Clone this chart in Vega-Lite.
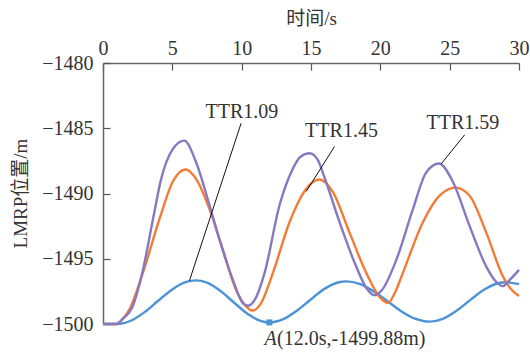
{
  "$schema": "https://vega.github.io/schema/vega-lite/v6.json",
  "autosize": {"type": "none"},
  "width": 416,
  "height": 261,
  "padding": {"left": 103, "top": 63, "right": 11, "bottom": 29},
  "background": "white",
  "config": {"view": {"stroke": null}},
  "datasets": {
    "curves": [
      {"t": 0, "v": -1500, "s": "TTR1.09"}, {"t": 0.5, "v": -1500, "s": "TTR1.09"}, {"t": 1.0, "v": -1500, "s": "TTR1.09"},
      {"t": 2.0, "v": -1499.75, "s": "TTR1.09"}, {"t": 3.0, "v": -1499.09, "s": "TTR1.09"}, {"t": 4.0, "v": -1498.2, "s": "TTR1.09"},
      {"t": 5.0, "v": -1497.35, "s": "TTR1.09"}, {"t": 6.0, "v": -1496.78, "s": "TTR1.09"}, {"t": 6.71, "v": -1496.66, "s": "TTR1.09"},
      {"t": 7.5, "v": -1496.83, "s": "TTR1.09"}, {"t": 8.5, "v": -1497.49, "s": "TTR1.09"}, {"t": 9.5, "v": -1498.41, "s": "TTR1.09"},
      {"t": 10.5, "v": -1499.28, "s": "TTR1.09"}, {"t": 11.3, "v": -1499.74, "s": "TTR1.09"}, {"t": 12.0, "v": -1499.88, "s": "TTR1.09"},
      {"t": 13.0, "v": -1499.63, "s": "TTR1.09"}, {"t": 14.0, "v": -1498.97, "s": "TTR1.09"}, {"t": 15.0, "v": -1498.1, "s": "TTR1.09"},
      {"t": 16.0, "v": -1497.29, "s": "TTR1.09"}, {"t": 17.0, "v": -1496.8, "s": "TTR1.09"}, {"t": 17.53, "v": -1496.73, "s": "TTR1.09"},
      {"t": 18.5, "v": -1496.92, "s": "TTR1.09"}, {"t": 19.5, "v": -1497.48, "s": "TTR1.09"}, {"t": 20.5, "v": -1498.24, "s": "TTR1.09"},
      {"t": 21.5, "v": -1499.02, "s": "TTR1.09"}, {"t": 22.5, "v": -1499.59, "s": "TTR1.09"}, {"t": 23.55, "v": -1499.82, "s": "TTR1.09"},
      {"t": 24.5, "v": -1499.6, "s": "TTR1.09"}, {"t": 25.5, "v": -1498.98, "s": "TTR1.09"}, {"t": 26.5, "v": -1498.15, "s": "TTR1.09"},
      {"t": 27.5, "v": -1497.36, "s": "TTR1.09"}, {"t": 28.5, "v": -1496.88, "s": "TTR1.09"}, {"t": 29.0, "v": -1496.8, "s": "TTR1.09"},
      {"t": 30, "v": -1496.95, "s": "TTR1.09"},

      {"t": 0, "v": -1500, "s": "TTR1.45"}, {"t": 0.5, "v": -1500, "s": "TTR1.45"}, {"t": 1.0, "v": -1500, "s": "TTR1.45"},
      {"t": 1.3, "v": -1499.75, "s": "TTR1.45"}, {"t": 1.9, "v": -1498.9, "s": "TTR1.45"}, {"t": 2.87, "v": -1496.1, "s": "TTR1.45"},
      {"t": 4.07, "v": -1491.97, "s": "TTR1.45"}, {"t": 5.03, "v": -1489.1, "s": "TTR1.45"}, {"t": 5.95, "v": -1488.16, "s": "TTR1.45"},
      {"t": 6.71, "v": -1488.88, "s": "TTR1.45"}, {"t": 7.68, "v": -1491.2, "s": "TTR1.45"}, {"t": 8.64, "v": -1494.3, "s": "TTR1.45"},
      {"t": 9.6, "v": -1497.4, "s": "TTR1.45"}, {"t": 10.2, "v": -1498.5, "s": "TTR1.45"}, {"t": 10.8, "v": -1498.97, "s": "TTR1.45"},
      {"t": 11.4, "v": -1498.4, "s": "TTR1.45"}, {"t": 12.25, "v": -1496.1, "s": "TTR1.45"}, {"t": 13.45, "v": -1492.2, "s": "TTR1.45"},
      {"t": 14.65, "v": -1489.65, "s": "TTR1.45"}, {"t": 15.61, "v": -1488.93, "s": "TTR1.45"}, {"t": 16.58, "v": -1489.9, "s": "TTR1.45"},
      {"t": 17.78, "v": -1493.0, "s": "TTR1.45"}, {"t": 18.99, "v": -1496.1, "s": "TTR1.45"}, {"t": 19.92, "v": -1497.9, "s": "TTR1.45"},
      {"t": 20.54, "v": -1498.4, "s": "TTR1.45"}, {"t": 21.05, "v": -1497.6, "s": "TTR1.45"}, {"t": 21.62, "v": -1496.1, "s": "TTR1.45"},
      {"t": 23.07, "v": -1492.2, "s": "TTR1.45"}, {"t": 24.27, "v": -1490.17, "s": "TTR1.45"}, {"t": 25.43, "v": -1489.55, "s": "TTR1.45"},
      {"t": 26.44, "v": -1490.17, "s": "TTR1.45"}, {"t": 27.64, "v": -1493.0, "s": "TTR1.45"}, {"t": 28.84, "v": -1496.35, "s": "TTR1.45"},
      {"t": 29.4, "v": -1497.3, "s": "TTR1.45"}, {"t": 30, "v": -1497.85, "s": "TTR1.45"},

      {"t": 0, "v": -1500, "s": "TTR1.59"}, {"t": 0.5, "v": -1500, "s": "TTR1.59"}, {"t": 0.94, "v": -1500, "s": "TTR1.59"},
      {"t": 1.43, "v": -1499.6, "s": "TTR1.59"}, {"t": 2.12, "v": -1498.7, "s": "TTR1.59"}, {"t": 2.87, "v": -1495.9, "s": "TTR1.59"},
      {"t": 3.6, "v": -1492.0, "s": "TTR1.59"}, {"t": 4.19, "v": -1488.9, "s": "TTR1.59"}, {"t": 5.03, "v": -1486.6, "s": "TTR1.59"},
      {"t": 5.86, "v": -1485.95, "s": "TTR1.59"}, {"t": 6.71, "v": -1487.6, "s": "TTR1.59"}, {"t": 7.68, "v": -1490.9, "s": "TTR1.59"},
      {"t": 8.39, "v": -1493.5, "s": "TTR1.59"}, {"t": 9.36, "v": -1496.6, "s": "TTR1.59"}, {"t": 10.08, "v": -1498.4, "s": "TTR1.59"},
      {"t": 10.46, "v": -1498.6, "s": "TTR1.59"}, {"t": 10.97, "v": -1498.1, "s": "TTR1.59"}, {"t": 11.65, "v": -1496.1, "s": "TTR1.59"},
      {"t": 12.73, "v": -1490.9, "s": "TTR1.59"}, {"t": 13.69, "v": -1488.1, "s": "TTR1.59"}, {"t": 14.22, "v": -1487.2, "s": "TTR1.59"},
      {"t": 14.9, "v": -1486.92, "s": "TTR1.59"}, {"t": 15.5, "v": -1487.45, "s": "TTR1.59"}, {"t": 15.85, "v": -1488.4, "s": "TTR1.59"},
      {"t": 17.06, "v": -1492.2, "s": "TTR1.59"}, {"t": 18.26, "v": -1495.6, "s": "TTR1.59"}, {"t": 19.03, "v": -1497.3, "s": "TTR1.59"},
      {"t": 19.59, "v": -1497.8, "s": "TTR1.59"}, {"t": 20.12, "v": -1497.4, "s": "TTR1.59"}, {"t": 21.15, "v": -1495.1, "s": "TTR1.59"},
      {"t": 22.35, "v": -1491.2, "s": "TTR1.59"}, {"t": 23.3, "v": -1488.4, "s": "TTR1.59"}, {"t": 24.23, "v": -1487.7, "s": "TTR1.59"},
      {"t": 25.23, "v": -1489.1, "s": "TTR1.59"}, {"t": 26.44, "v": -1492.5, "s": "TTR1.59"}, {"t": 27.64, "v": -1495.6, "s": "TTR1.59"},
      {"t": 28.38, "v": -1496.8, "s": "TTR1.59"}, {"t": 28.84, "v": -1497.1, "s": "TTR1.59"}, {"t": 29.26, "v": -1496.7, "s": "TTR1.59"},
      {"t": 30, "v": -1495.85, "s": "TTR1.59"}
    ],
    "leaders": [
      {"t": 9.96, "v": -1484.61, "g": "a"}, {"t": 6.23, "v": -1496.7, "g": "a"},
      {"t": 16.7, "v": -1486.4, "g": "b"}, {"t": 14.65, "v": -1489.85, "g": "b"},
      {"t": 26.08, "v": -1485.5, "g": "c"}, {"t": 24.39, "v": -1487.73, "g": "c"}
    ],
    "labels": [
      {"t": 10.02, "v": -1484.2, "label": "TTR1.09"},
      {"t": 17.2, "v": -1485.64, "label": "TTR1.45"},
      {"t": 25.95, "v": -1485.07, "label": "TTR1.59"}
    ],
    "pointA": [{"t": 12.0, "v": -1499.88}],
    "labelA": [
      {"t": 11.64, "v": -1501.6, "part": "A", "label": "A"},
      {"t": 12.55, "v": -1501.6, "part": "rest", "label": "(12.0s,-1499.88m)"}
    ]
  },
  "encoding": {
    "x": {
      "field": "t", "type": "quantitative",
      "scale": {"domain": [0, 30], "nice": false, "zero": false},
      "axis": {
        "orient": "top", "values": [0, 5, 10, 15, 20, 25, 30], "grid": false, "format": "d",
        "tickSize": -7, "labelPadding": 12, "labelFlush": false, "labelOverlap": false,
        "domainColor": "#666666", "domainWidth": 1.5, "tickColor": "#555555", "tickWidth": 1.2,
        "labelFont": "Liberation Serif, serif", "labelFontSize": 20, "labelColor": "#333333",
        "title": "时间/s", "titleFont": "Liberation Serif, Noto Sans CJK SC, serif", "titleFontSize": 19,
        "titleFontWeight": "normal", "titleColor": "#333333", "titleBaseline": "alphabetic",
        "titleX": 208, "titleY": -39
      }
    },
    "y": {
      "field": "v", "type": "quantitative",
      "scale": {"domain": [-1500, -1480], "nice": false, "zero": false},
      "axis": {
        "values": [-1500, -1495, -1490, -1485, -1480], "grid": false, "format": "d",
        "tickSize": -7, "labelPadding": 17, "labelFlush": false, "labelOverlap": false,
        "domainColor": "#666666", "domainWidth": 1.5, "tickColor": "#555555", "tickWidth": 1.2,
        "labelFont": "Liberation Serif, serif", "labelFontSize": 20, "labelColor": "#333333",
        "title": "LMRP位置/m", "titleFont": "Liberation Serif, Noto Sans CJK SC, serif", "titleFontSize": 19,
        "titleFontWeight": "normal", "titleColor": "#333333", "titleBaseline": "alphabetic",
        "titleX": -77, "titleY": 130
      }
    }
  },
  "layer": [
    {
      "data": {"name": "curves"},
      "mark": {"type": "line", "interpolate": "monotone", "strokeWidth": 2.4},
      "encoding": {
        "color": {
          "field": "s", "type": "nominal",
          "scale": {"domain": ["TTR1.09", "TTR1.45", "TTR1.59"], "range": ["#4b93d6", "#f27c36", "#8678c1"]},
          "legend": null
        }
      }
    },
    {
      "data": {"name": "leaders"},
      "mark": {"type": "line", "color": "#111111", "strokeWidth": 1},
      "encoding": {"detail": {"field": "g", "type": "nominal"}}
    },
    {
      "data": {"name": "labels"},
      "mark": {"type": "text", "font": "Liberation Serif, serif", "fontSize": 20, "color": "#333333", "align": "center", "baseline": "alphabetic"},
      "encoding": {"text": {"field": "label"}}
    },
    {
      "data": {"name": "pointA"},
      "mark": {"type": "square", "size": 36, "filled": true, "opacity": 1, "color": "#4b93d6"}
    },
    {
      "data": {"name": "labelA"},
      "transform": [{"filter": "datum.part === 'A'"}],
      "mark": {"type": "text", "font": "Liberation Serif, serif", "fontSize": 20, "fontStyle": "italic", "color": "#333333", "align": "left", "baseline": "alphabetic"},
      "encoding": {"text": {"field": "label"}}
    },
    {
      "data": {"name": "labelA"},
      "transform": [{"filter": "datum.part === 'rest'"}],
      "mark": {"type": "text", "font": "Liberation Serif, serif", "fontSize": 20, "color": "#333333", "align": "left", "baseline": "alphabetic"},
      "encoding": {"text": {"field": "label"}}
    }
  ]
}
